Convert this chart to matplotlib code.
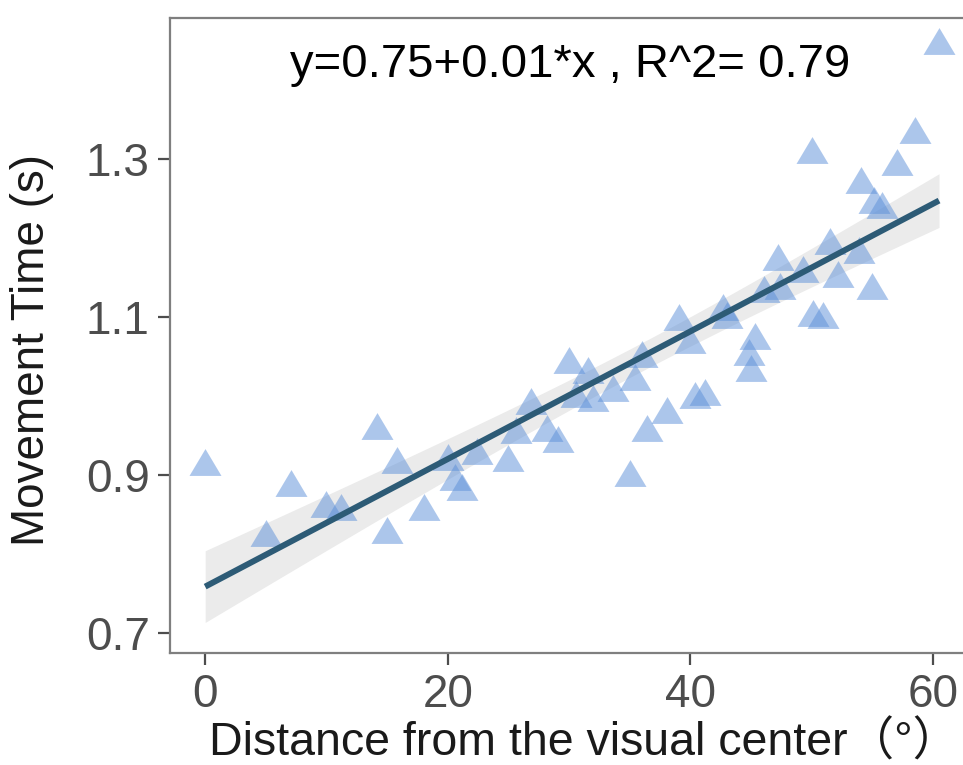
import numpy as np
import matplotlib
matplotlib.use("Agg")
import matplotlib.pyplot as plt

# distance from the visual center (deg) and movement time (s)
distance = [0.0, 5.0, 7.1, 9.95, 11.2, 14.15, 15.0, 15.8, 18.0, 20.0,
            20.6, 21.2, 22.4, 25.0, 25.6, 26.9, 28.2, 29.1, 30.0, 30.6,
            31.6, 32.0, 33.6, 35.0, 35.4, 36.0, 36.4, 38.1, 39.1, 40.0,
            40.4, 41.2, 42.7, 43.0, 44.8, 45.0, 45.3, 46.1, 47.2, 47.4,
            49.3, 50.0, 50.1, 50.9, 51.5, 52.2, 53.9, 54.1, 55.0, 55.1,
            55.8, 57.0, 58.5, 60.5]
move_time = [0.917, 0.827, 0.890, 0.864, 0.859, 0.962, 0.831, 0.919, 0.860, 0.923,
             0.898, 0.885, 0.930, 0.921, 0.957, 0.994, 0.960, 0.946, 1.045, 1.003,
             1.033, 0.997, 1.010, 0.902, 1.024, 1.053, 0.959, 0.982, 1.100, 1.071,
             1.001, 1.005, 1.113, 1.102, 1.056, 1.035, 1.076, 1.135, 1.176, 1.139,
             1.160, 1.311, 1.105, 1.102, 1.196, 1.154, 1.185, 1.273, 1.139, 1.248,
             1.241, 1.296, 1.337, 1.449]

x_ticks = [0, 20, 40, 60]
y_ticks = [0.7, 0.9, 1.1, 1.3]
eq_text = "y=0.75+0.01*x , R^2= 0.79"

x = np.array(distance)
y = np.array(move_time)

# linear fit + 95% confidence band (like geom_smooth(method="lm"))
slope, intercept = np.polyfit(x, y, 1)
n = len(x)
resid = y - (intercept + slope * x)
s_err = np.sqrt(np.sum(resid ** 2) / (n - 2))
xs = np.linspace(x.min(), x.max(), 200)
ys = intercept + slope * xs
t_val = 2.007
se_fit = s_err * np.sqrt(1.0 / n + (xs - x.mean()) ** 2 / np.sum((x - x.mean()) ** 2))

plt.rcParams['font.family'] = ['Liberation Sans', 'Noto Sans CJK SC', 'DejaVu Sans']

fig = plt.figure(figsize=(9.63, 7.65), dpi=100)
ax = fig.add_axes([170 / 963, 1 - 653 / 765, 803 / 963, 635 / 765])

ax.fill_between(xs, ys - t_val * se_fit, ys + t_val * se_fit, color="#ebebeb", lw=0, zorder=1)
tri = [(-1, -0.84), (1, -0.84), (0, 0.84)]
ax.scatter(x, y, marker=tri, s=530, color="#5b8fd9", alpha=0.5, lw=0, zorder=2)
ax.plot(xs, ys, color="#2d5b76", lw=4.3, zorder=3, solid_capstyle="butt")

ax.text(0.498, 0.926, eq_text, transform=ax.transAxes, ha="center", va="center",
        fontsize=34, color="black")

ax.set_xlim(-2.9, 63.3)
ax.set_ylim(0.675, 1.478)
ax.set_xticks(x_ticks)
ax.set_yticks(y_ticks)
ax.set_yticklabels(["0.7", "0.9", "1.1", "1.3"])

for sp in ax.spines.values():
    sp.set_color("#7f7f7f")
    sp.set_linewidth(1.6)
ax.tick_params(axis="both", length=8.5, width=1.6, color="#4d4d4d",
               labelsize=33, labelcolor="#4d4d4d", pad=6)

ax.set_xlabel("Distance from the visual center（°）", fontsize=33.5, color="#1a1a1a")
ax.set_ylabel("Movement Time (s)", fontsize=33, color="#1a1a1a")
ax.xaxis.set_label_coords((584 - 170) / 803, -(721 - 653) / 635)
ax.yaxis.set_label_coords(-(170 - 54) / 803, (653 - 350) / 635)

fig.savefig("out.png", dpi=100)
